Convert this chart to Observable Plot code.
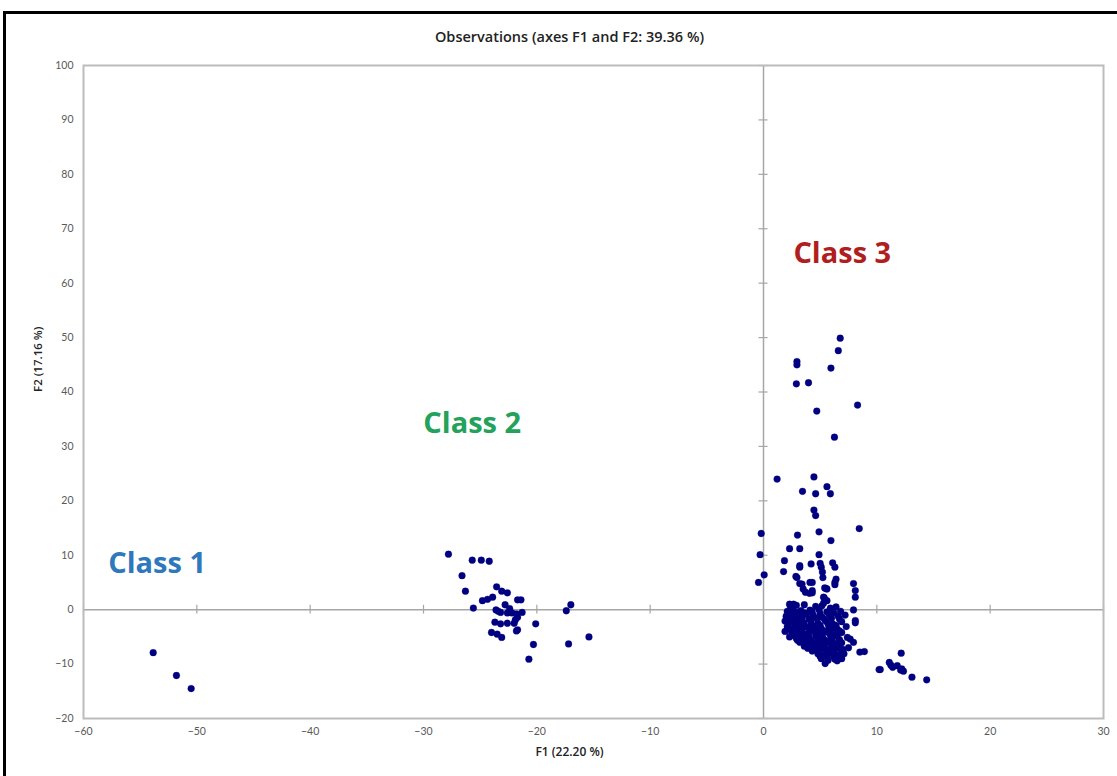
<!DOCTYPE html>
<html>
<head>
<meta charset="utf-8">
<script src="https://cdn.jsdelivr.net/npm/d3@7"></script>
<script src="https://cdn.jsdelivr.net/npm/@observablehq/plot@0.6"></script>
<style>
  html, body { margin: 0; padding: 0; background: #fff; overflow: hidden; }
  #border { position: absolute; left: 3px; top: 11px; width: 1130px; height: 800px; border: 3px solid #000; box-sizing: border-box; }
  #chart { position: absolute; left: 0; top: 0; }
</style>
</head>
<body>
<div id="border"></div>
<div id="chart"></div>
<script>
const titleText = "Observations (axes F1 and F2: 39.36 %)";
const xLabel = "F1 (22.20 %)";
const yLabel = "F2 (17.16 %)";
const xTicks = [-60, -50, -40, -30, -20, -10, 0, 10, 20, 30];
const yTicks = [-20, -10, 0, 10, 20, 30, 40, 50, 60, 70, 80, 90, 100];

const classNames = ["Class 1", "Class 2", "Class 3"];
const classColors = ["#2e78bb", "#22a25a", "#b01e1e"];
const classLabelX = [-53.5, -25.7, 6.95];
const classLabelY = [8.4, 34.2, 65.4];

const class1 = [[-53.85, -7.9], [-51.8, -12.1], [-50.5, -14.5]];

const class2 = [
  [-27.8, 10.2], [-25.7, 9.1], [-24.9, 9.1], [-24.2, 8.9], [-26.6, 6.25], [-26.3, 3.4],
  [-25.6, 0.3], [-23.55, 4.2], [-23.1, 3.4], [-22.6, 3.1], [-24.8, 1.65], [-24.35, 1.9],
  [-23.9, 2.3], [-21.7, 1.8], [-21.4, 1.8], [-23.6, -0.05], [-22.8, 0.9], [-23.2, -0.5],
  [-22.6, -0.6], [-22.2, -0.6], [-21.8, -0.8], [-21.7, -1.4], [-21.3, -0.5], [-23.7, -2.3],
  [-23.2, -2.6], [-22.6, -2.5], [-22.0, -2.5], [-20.1, -2.6], [-24.0, -4.2], [-23.5, -4.5],
  [-23.1, -5.1], [-21.8, -3.9], [-21.7, -3.7], [-20.3, -6.4], [-20.7, -9.1], [-17.4, -0.2],
  [-17.0, 0.9], [-17.2, -6.3], [-15.4, -5.0], [-23.4, -0.3], [-22.4, 0.2], [-21.9, -1.9]
];

const class3 = [
  [6.77, 49.9], [6.6, 47.6], [2.95, 45.6], [2.95, 45.0], [5.95, 44.4], [2.9, 41.5],
  [3.97, 41.7], [8.3, 37.6], [4.7, 36.5], [6.26, 31.7],
  [1.2, 24.0], [4.45, 24.4], [3.44, 21.75], [4.6, 21.3], [5.6, 22.6], [5.9, 21.3],
  [4.45, 18.3], [4.6, 17.3], [-0.2, 14.0], [3.0, 13.7], [4.9, 14.3], [8.45, 14.9],
  [5.95, 12.7], [-0.3, 10.1], [2.3, 11.2], [3.2, 11.2], [4.9, 10.1], [1.85, 9.0],
  [3.2, 8.1], [4.2, 8.4], [5.0, 8.5], [6.1, 8.6], [0.06, 6.4], [1.77, 7.0],
  [3.2, 7.8], [5.1, 7.8], [5.2, 6.9], [5.24, 5.9], [6.3, 7.8], [6.4, 5.6], [6.3, 5.0],
  [2.86, 6.1], [3.2, 4.8], [3.5, 3.8], [3.7, 3.2], [4.3, 5.0], [4.3, 3.5], [4.06, 3.0],
  [5.5, 3.9], [5.6, 3.8], [7.94, 4.8], [8.1, 3.5], [8.1, 2.3], [5.36, 2.15], [-0.44, 5.0],
  [7.94, -0.05], [8.1, -2.0], [8.1, -2.4], [7.65, -5.4], [7.94, -6.0], [7.5, -7.0],
  [8.5, -7.8], [8.9, -7.7], [5.44, -9.9], [6.5, -9.4], [10.2, -11.0],
  [12.15, -8.0], [10.3, -11.0], [11.1, -9.7], [11.24, -10.2], [11.4, -10.6], [11.8, -10.3],
  [12.1, -11.1], [12.35, -11.3], [12.2, -10.9], [13.1, -12.4], [14.4, -12.9],
  [2.95, 5.9], [3.4, 4.7], [4.1, 5.0], [4.3, 3.1], [5.4, 4.0], [6.3, 4.6],
  [5.3, 2.3], [5.6, 1.65], [5.15, 0.7], [2.36, 0.7], [2.65, 1.0],
  [2.3, 1.0], [2.9, 0.8], [3.6, 0.9], [4.6, 0.6], [5.3, 1.2], [5.9, 0.3], [6.4, 0.5],
  [2.1, -0.3], [2.6, 0.1], [3.3, -0.2], [4.1, -0.1], [4.9, 0.0], [5.6, -0.4], [6.8, -0.3],
  [2.0, -1.2], [2.5, -0.9], [3.1, -1.3], [3.8, -0.8], [4.4, -1.1], [5.2, -1.4], [5.8, -0.9], [6.6, -1.2], [7.2, -1.0],
  [1.9, -2.1], [2.4, -2.3], [3.0, -1.9], [3.5, -2.4], [4.2, -2.0], [4.8, -2.5], [5.5, -2.1], [6.1, -2.6], [6.9, -2.2],
  [2.1, -3.1], [2.7, -3.4], [3.3, -2.9], [3.9, -3.3], [4.5, -3.0], [5.1, -3.5], [5.8, -3.2], [6.5, -3.6], [7.3, -3.1],
  [1.9, -4.0], [2.5, -4.3], [3.1, -4.1], [3.7, -4.5], [4.3, -3.9], [4.9, -4.4], [5.6, -4.1], [6.2, -4.6], [6.9, -4.2],
  [2.3, -5.0], [2.9, -5.3], [3.5, -5.1], [4.1, -5.5], [4.7, -5.0], [5.3, -5.4], [6.0, -5.2], [6.7, -5.5], [7.4, -5.1],
  [3.2, -6.0], [3.8, -6.3], [4.4, -6.1], [5.0, -6.4], [5.6, -6.0], [6.3, -6.4], [6.9, -6.1],
  [3.9, -7.1], [4.6, -7.3], [5.2, -7.0], [5.8, -7.4], [6.4, -7.0], [7.0, -7.3],
  [4.8, -8.1], [5.4, -8.3], [6.0, -8.0], [6.6, -8.4], [7.1, -8.1],
  [5.1, -9.0], [5.7, -9.3], [6.3, -9.1], [6.9, -9.0],
  [2.3, -0.6], [3.0, -0.5], [3.6, -0.6], [4.3, -0.5], [5.0, -0.7], [6.2, -0.6],
  [2.2, -1.6], [2.8, -1.7], [3.4, -1.5], [4.0, -1.7], [4.7, -1.6], [5.4, -1.8], [6.0, -1.6], [6.7, -1.7],
  [2.2, -2.6], [2.9, -2.7], [3.6, -2.6], [4.2, -2.8], [5.0, -2.9], [5.7, -2.7], [6.4, -2.9],
  [2.3, -3.6], [2.9, -3.8], [3.4, -3.6], [4.1, -3.8], [4.7, -3.7], [5.4, -3.9], [6.0, -3.7], [6.7, -3.9],
  [2.7, -4.7], [3.3, -4.8], [4.0, -4.9], [4.6, -4.7], [5.2, -4.9], [5.9, -4.7], [6.5, -4.9],
  [3.0, -5.6], [3.6, -5.8], [4.2, -5.7], [4.9, -5.9], [5.5, -5.7], [6.1, -5.9], [6.7, -5.7],
  [3.6, -6.7], [4.2, -6.6], [4.8, -6.8], [5.4, -6.6], [6.0, -6.8], [6.6, -6.6],
  [4.3, -7.6], [4.9, -7.8], [5.5, -7.7], [6.2, -7.8], [6.8, -7.6],
  [5.0, -8.6], [5.6, -8.7], [6.2, -8.6], [6.7, -8.8]
];

const points = [...class1, ...class2, ...class3].map(([x, y]) => ({x, y}));
const labels = classNames.map((name, i) => ({name, x: classLabelX[i], y: classLabelY[i], color: classColors[i]}));

const font = "Lato, 'Open Sans', sans-serif";
const labelFont = "'Open Sans', Lato, sans-serif";

const chart = Plot.plot({
  width: 1117,
  height: 776,
  marginLeft: 83,
  marginRight: 14,
  marginTop: 65,
  marginBottom: 58,
  style: {fontFamily: font, fontSize: "10.5px", color: "#595959", background: "transparent"},
  x: {domain: [-60, 30], ticks: xTicks, tickSize: 0, tickPadding: 9, label: null},
  y: {domain: [-20, 100], ticks: yTicks, tickSize: 0, tickPadding: 10, label: null},
  marks: [
    Plot.ruleY([0], {stroke: "#a6a6a6", strokeWidth: 1.5}),
    Plot.ruleX([0], {stroke: "#a6a6a6", strokeWidth: 1.5}),
    Plot.ruleX(xTicks.filter(t => t !== 0), {x: d => d, y1: -0.8, y2: 0.8, stroke: "#a6a6a6", strokeWidth: 1.2}),
    Plot.ruleY(yTicks.filter(t => t !== 0), {y: d => d, x1: -0.4, x2: 0.4, stroke: "#a6a6a6", strokeWidth: 1.2}),
    Plot.frame({stroke: "#bcbcbc", strokeWidth: 2}),
    Plot.dot(points, {x: "x", y: "y", r: 3.4, fill: "#000080", stroke: "#000080", strokeWidth: 0.3}),
    Plot.text(labels, {x: "x", y: "y", text: "name", fill: "color", fontSize: 29, fontWeight: "bold", fontFamily: labelFont}),
    Plot.text([titleText], {frameAnchor: "top", dx: -24, dy: -28, lineAnchor: "middle", fontSize: 14.5, fontWeight: 600, fill: "#222", fontFamily: labelFont}),
    Plot.text([xLabel], {frameAnchor: "bottom", dx: -24, dy: 34, lineAnchor: "middle", fontSize: 12, fontWeight: 600, fill: "#222", fontFamily: labelFont}),
    Plot.text([yLabel], {frameAnchor: "left", dx: -45, rotate: -90, fontSize: 11.5, fontWeight: 600, fill: "#222", fontFamily: labelFont})
  ]
});
document.getElementById("chart").appendChild(chart);
</script>
</body>
</html>
